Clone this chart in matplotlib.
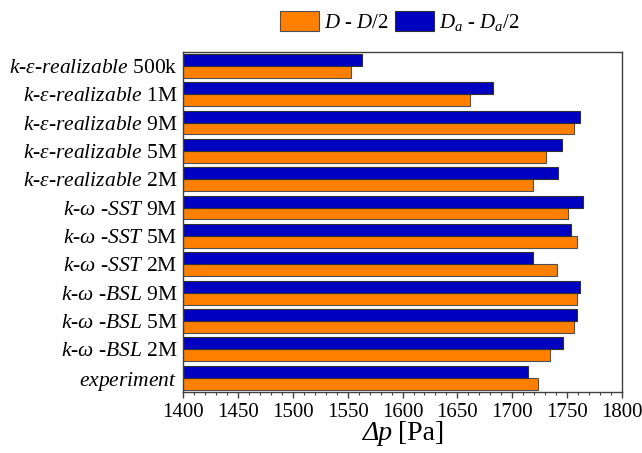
import numpy as np
import matplotlib
matplotlib.use("Agg")
import matplotlib.pyplot as plt
from matplotlib.ticker import MultipleLocator

plt.rcParams['font.family'] = ['Liberation Serif', 'DejaVu Serif']
plt.rcParams['mathtext.fontset'] = 'custom'
plt.rcParams['mathtext.rm'] = 'Liberation Serif'
plt.rcParams['mathtext.it'] = 'Liberation Serif:italic'
plt.rcParams['mathtext.bf'] = 'Liberation Serif:bold'

# categories from top to bottom
labels = [
    r"$\mathit{k}$-$\mathit{\varepsilon}$-$\mathit{realizable}$ 500k",
    r"$\mathit{k}$-$\mathit{\varepsilon}$-$\mathit{realizable}$ 1M",
    r"$\mathit{k}$-$\mathit{\varepsilon}$-$\mathit{realizable}$ 9M",
    r"$\mathit{k}$-$\mathit{\varepsilon}$-$\mathit{realizable}$ 5M",
    r"$\mathit{k}$-$\mathit{\varepsilon}$-$\mathit{realizable}$ 2M",
    r"$\mathit{k}$-$\mathit{\omega}$ -$\mathit{SST}$ 9M",
    r"$\mathit{k}$-$\mathit{\omega}$ -$\mathit{SST}$ 5M",
    r"$\mathit{k}$-$\mathit{\omega}$ -$\mathit{SST}$ 2M",
    r"$\mathit{k}$-$\mathit{\omega}$ -$\mathit{BSL}$ 9M",
    r"$\mathit{k}$-$\mathit{\omega}$ -$\mathit{BSL}$ 5M",
    r"$\mathit{k}$-$\mathit{\omega}$ -$\mathit{BSL}$ 2M",
    r"$\mathit{experiment}$",
]
dp_D = [1553, 1661, 1756, 1731, 1719, 1751, 1759, 1741, 1759, 1756, 1734, 1723]
dp_Da = [1563, 1682, 1762, 1745, 1742, 1764, 1753, 1719, 1762, 1759, 1746, 1714]

fig = plt.figure(figsize=(6.42, 4.53), dpi=100)
ax = fig.add_axes([0.285, 0.135, 0.684, 0.751])

n = len(labels)
y = np.arange(n)[::-1]
h = 0.42
ax.barh(y - h/2, dp_D, height=h, left=0, color='#ff8000', edgecolor='#505050',
        linewidth=0.8, label=r"$D$ - $D$/2")
ax.barh(y + h/2, dp_Da, height=h, left=0, color='#0000c0', edgecolor='#303030',
        linewidth=0.8, label=r"$D_a$ - $D_a$/2")

ax.set_xlim(1400, 1800)
ax.set_ylim(-0.5, n - 0.5)
ax.set_yticks(y)
ax.set_yticklabels(labels, fontsize=15.5)
ax.tick_params(axis='y', length=0, pad=4)
ax.xaxis.set_major_locator(MultipleLocator(50))
ax.xaxis.set_minor_locator(MultipleLocator(10))
ax.tick_params(axis='x', which='major', direction='out', length=4, width=1,
               labelsize=15, color='#404040', pad=4)
ax.tick_params(axis='x', which='minor', direction='out', length=2.5, width=0.8,
               color='#404040')
for s in ax.spines.values():
    s.set_color('#404040')
    s.set_linewidth(1.0)

# x label: italic "Δp" followed by upright "[Pa]"
ax.text(0.478, -0.085, "Δp", transform=ax.transAxes, fontsize=20,
        fontstyle='italic', ha='right', va='top')
ax.text(0.49, -0.085, "[Pa]", transform=ax.transAxes, fontsize=20,
        ha='left', va='top')

ax.legend(loc='center', bbox_to_anchor=(0.493, 1.087), ncol=2, frameon=False,
          fontsize=15, handlelength=1.87, handleheight=1.1, handletextpad=0.24,
          columnspacing=0.28, borderaxespad=0.0, borderpad=0.0)

fig.savefig("out.png", dpi=100)
